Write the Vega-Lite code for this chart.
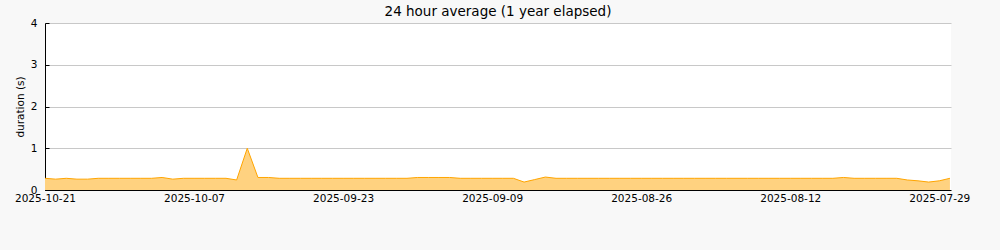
{
  "$schema": "https://vega.github.io/schema/vega-lite/v6.json",
  "autosize": {"type": "none"},
  "width": 906,
  "height": 167,
  "padding": {"left": 45, "top": 23, "right": 49, "bottom": 60},
  "background": "#f8f8f8",
  "title": {"text": "24 hour average (1 year elapsed)", "font": "DejaVu Sans", "fontSize": 13.5, "fontWeight": "normal", "color": "#000000", "anchor": "middle", "offset": 0},
  "config": {
    "view": {"fill": "#ffffff", "stroke": null},
    "font": "DejaVu Sans"
  },
  "data": {"values": [
    {"date": "2025-10-21", "value": 0.28},
    {"date": "2025-10-20", "value": 0.26},
    {"date": "2025-10-19", "value": 0.28},
    {"date": "2025-10-18", "value": 0.26},
    {"date": "2025-10-17", "value": 0.26},
    {"date": "2025-10-16", "value": 0.28},
    {"date": "2025-10-15", "value": 0.28},
    {"date": "2025-10-14", "value": 0.28},
    {"date": "2025-10-13", "value": 0.28},
    {"date": "2025-10-12", "value": 0.28},
    {"date": "2025-10-11", "value": 0.28},
    {"date": "2025-10-10", "value": 0.30},
    {"date": "2025-10-09", "value": 0.26},
    {"date": "2025-10-08", "value": 0.28},
    {"date": "2025-10-07", "value": 0.28},
    {"date": "2025-10-06", "value": 0.28},
    {"date": "2025-10-05", "value": 0.28},
    {"date": "2025-10-04", "value": 0.28},
    {"date": "2025-10-03", "value": 0.24},
    {"date": "2025-10-02", "value": 1.00},
    {"date": "2025-10-01", "value": 0.30},
    {"date": "2025-09-30", "value": 0.30},
    {"date": "2025-09-29", "value": 0.28},
    {"date": "2025-09-28", "value": 0.28},
    {"date": "2025-09-27", "value": 0.28},
    {"date": "2025-09-26", "value": 0.28},
    {"date": "2025-09-25", "value": 0.28},
    {"date": "2025-09-24", "value": 0.28},
    {"date": "2025-09-23", "value": 0.28},
    {"date": "2025-09-22", "value": 0.28},
    {"date": "2025-09-21", "value": 0.28},
    {"date": "2025-09-20", "value": 0.28},
    {"date": "2025-09-19", "value": 0.28},
    {"date": "2025-09-18", "value": 0.28},
    {"date": "2025-09-17", "value": 0.28},
    {"date": "2025-09-16", "value": 0.30},
    {"date": "2025-09-15", "value": 0.30},
    {"date": "2025-09-14", "value": 0.30},
    {"date": "2025-09-13", "value": 0.30},
    {"date": "2025-09-12", "value": 0.28},
    {"date": "2025-09-11", "value": 0.28},
    {"date": "2025-09-10", "value": 0.28},
    {"date": "2025-09-09", "value": 0.28},
    {"date": "2025-09-08", "value": 0.28},
    {"date": "2025-09-07", "value": 0.28},
    {"date": "2025-09-06", "value": 0.19},
    {"date": "2025-09-05", "value": 0.25},
    {"date": "2025-09-04", "value": 0.31},
    {"date": "2025-09-03", "value": 0.28},
    {"date": "2025-09-02", "value": 0.28},
    {"date": "2025-09-01", "value": 0.28},
    {"date": "2025-08-31", "value": 0.28},
    {"date": "2025-08-30", "value": 0.28},
    {"date": "2025-08-29", "value": 0.28},
    {"date": "2025-08-28", "value": 0.28},
    {"date": "2025-08-27", "value": 0.28},
    {"date": "2025-08-26", "value": 0.28},
    {"date": "2025-08-25", "value": 0.28},
    {"date": "2025-08-24", "value": 0.28},
    {"date": "2025-08-23", "value": 0.28},
    {"date": "2025-08-22", "value": 0.28},
    {"date": "2025-08-21", "value": 0.28},
    {"date": "2025-08-20", "value": 0.28},
    {"date": "2025-08-19", "value": 0.28},
    {"date": "2025-08-18", "value": 0.28},
    {"date": "2025-08-17", "value": 0.28},
    {"date": "2025-08-16", "value": 0.28},
    {"date": "2025-08-15", "value": 0.28},
    {"date": "2025-08-14", "value": 0.28},
    {"date": "2025-08-13", "value": 0.28},
    {"date": "2025-08-12", "value": 0.28},
    {"date": "2025-08-11", "value": 0.28},
    {"date": "2025-08-10", "value": 0.28},
    {"date": "2025-08-09", "value": 0.28},
    {"date": "2025-08-08", "value": 0.28},
    {"date": "2025-08-07", "value": 0.30},
    {"date": "2025-08-06", "value": 0.28},
    {"date": "2025-08-05", "value": 0.28},
    {"date": "2025-08-04", "value": 0.28},
    {"date": "2025-08-03", "value": 0.28},
    {"date": "2025-08-02", "value": 0.28},
    {"date": "2025-08-01", "value": 0.24},
    {"date": "2025-07-31", "value": 0.22},
    {"date": "2025-07-30", "value": 0.19},
    {"date": "2025-07-29", "value": 0.22},
    {"date": "2025-07-28", "value": 0.28}
  ]},
  "mark": {"type": "area", "color": "#ffd280", "opacity": 1, "line": {"color": "#ffa500", "strokeWidth": 1}},
  "encoding": {
    "x": {
      "field": "date", "type": "temporal",
      "scale": {"type": "utc", "reverse": true, "nice": false,
        "domain": [{"year": 2025, "month": 7, "date": 27, "hours": 21, "minutes": 36, "utc": true}, {"year": 2025, "month": 10, "date": 21, "utc": true}]},
      "axis": {
        "title": null,
        "grid": false,
        "values": [
          {"year": 2025, "month": 10, "date": 21, "utc": true},
          {"year": 2025, "month": 10, "date": 14, "utc": true},
          {"year": 2025, "month": 10, "date": 7, "utc": true},
          {"year": 2025, "month": 9, "date": 30, "utc": true},
          {"year": 2025, "month": 9, "date": 23, "utc": true},
          {"year": 2025, "month": 9, "date": 16, "utc": true},
          {"year": 2025, "month": 9, "date": 9, "utc": true},
          {"year": 2025, "month": 9, "date": 2, "utc": true},
          {"year": 2025, "month": 8, "date": 26, "utc": true},
          {"year": 2025, "month": 8, "date": 19, "utc": true},
          {"year": 2025, "month": 8, "date": 12, "utc": true},
          {"year": 2025, "month": 8, "date": 5, "utc": true},
          {"year": 2025, "month": 7, "date": 29, "utc": true}
        ],
        "format": "%Y-%m-%d",
        "labelExpr": "indexof(['2025-10-21','2025-10-07','2025-09-23','2025-09-09','2025-08-26','2025-08-12','2025-07-29'], datum.label) >= 0 ? datum.label : ''",
        "labelFont": "DejaVu Sans", "labelFontSize": 10.5, "labelColor": "#000000",
        "labelFlush": false, "labelOverlap": false, "labelPadding": 8.5,
        "domainColor": "#000000", "domainWidth": 1,
        "tickColor": "#000000", "tickSize": -5, "tickWidth": 1
      }
    },
    "y": {
      "field": "value", "type": "quantitative",
      "scale": {"domain": [0, 4], "nice": false, "zero": true},
      "axis": {
        "title": "duration (s)",
        "titleFont": "DejaVu Sans", "titleFontSize": 10.5, "titleFontWeight": "normal", "titleColor": "#000000",
        "titleX": -22, "titleY": 83.5, "titleAngle": -90, "titleBaseline": "alphabetic", "titleAlign": "center",
        "values": [0, 0.5, 1, 1.5, 2, 2.5, 3, 3.5, 4],
        "format": "d",
        "labelExpr": "datum.value % 1 == 0 ? datum.label : ''",
        "labelFont": "DejaVu Sans", "labelFontSize": 10.5, "labelColor": "#000000", "labelPadding": 12,
        "labelFlush": false, "labelOverlap": false,
        "grid": true,
        "gridColor": {"condition": {"test": "datum.value % 1 == 0 && datum.value > 0", "value": "#c8c8c8"}, "value": "transparent"},
        "gridWidth": 1,
        "domainColor": "#000000", "domainWidth": 1,
        "tickColor": "#000000", "tickSize": -4, "tickWidth": 1
      }
    }
  }
}
